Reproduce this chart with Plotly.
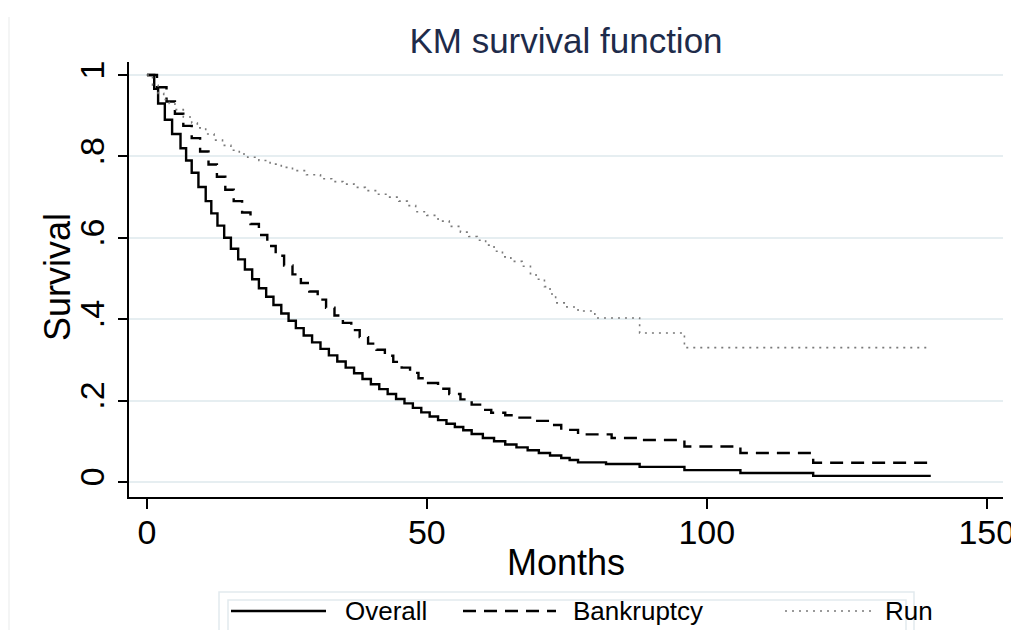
import plotly.graph_objects as go

# ---- data ----
overall_t = [0, 1.3, 2.0, 3.2, 4.5, 6.0, 7.0, 8.0, 9.2, 10.5, 11.5, 12.6, 13.8, 15.0, 16.3, 17.5,
             18.8, 20.0, 21.3, 22.6, 24.0, 25.3, 26.6, 28.0, 29.5, 31.0, 32.5, 34.0, 35.5, 37.0,
             38.5, 40.0, 41.5, 43.0, 44.5, 46.0, 47.5, 49.0, 50.5, 52.0, 53.5, 55.0, 56.5, 58.0,
             60.0, 62.0, 64.0, 66.0, 68.0, 70.0, 72.0, 74.0, 75.5, 77.0, 82.0, 88.0, 96.0, 106.0,
             119.0, 140.0]
overall_s = [1.0, 0.966, 0.93, 0.89, 0.855, 0.82, 0.79, 0.76, 0.725, 0.69, 0.66, 0.63, 0.60, 0.573,
             0.547, 0.522, 0.498, 0.476, 0.455, 0.435, 0.414, 0.396, 0.378, 0.36, 0.343, 0.327,
             0.311, 0.296, 0.281, 0.267, 0.253, 0.24, 0.228, 0.216, 0.204, 0.193, 0.182, 0.171,
             0.161, 0.152, 0.143, 0.135, 0.127, 0.118, 0.108, 0.10, 0.092, 0.085, 0.078, 0.071,
             0.065, 0.059, 0.054, 0.048, 0.044, 0.037, 0.029, 0.022, 0.015, 0.015]

bankruptcy_t = [0, 1.8, 3.5, 5.0, 6.5, 8.0, 9.5, 11.0, 12.5, 14.0, 15.5, 17.0, 18.5, 20.0, 21.5,
                23.0, 24.5, 26.0, 27.5, 29.0, 30.5, 32.0, 33.5, 35.0, 36.5, 38.0, 39.5, 41.0,
                42.5, 44.0, 45.5, 47.0, 48.5, 50.0, 52.0, 54.0, 56.0, 58.0, 60.0, 61.5, 64.0,
                66.0, 69.0, 72.0, 74.0, 77.0, 83.0, 88.0, 96.0, 106.0, 119.0, 140.0]
bankruptcy_s = [1.0, 0.97, 0.935, 0.905, 0.875, 0.845, 0.812, 0.78, 0.75, 0.718, 0.69, 0.662,
                0.634, 0.607, 0.58, 0.556, 0.532, 0.51, 0.489, 0.468, 0.448, 0.428, 0.409, 0.391,
                0.373, 0.356, 0.34, 0.325, 0.31, 0.295, 0.281, 0.268, 0.255, 0.243, 0.229, 0.216,
                0.203, 0.19, 0.177, 0.17, 0.164, 0.158, 0.15, 0.14, 0.128, 0.117, 0.108, 0.103,
                0.087, 0.071, 0.047, 0.047]

run_t = [0, 1.0, 2.0, 3.0, 4.0, 5.0, 6.5, 8.0, 9.0, 10.5, 12.0, 13.5, 15.0, 16.5, 18.0, 20.0,
         22.0, 24.0, 26.0, 28.5, 31.0, 33.0, 35.0, 37.0, 39.0, 41.0, 43.0, 45.0, 46.5, 48.0,
         50.0, 52.0, 54.0, 56.0, 57.5, 59.0, 60.5, 62.0, 63.5, 65.0, 67.0, 68.5, 69.5, 71.0,
         72.0, 73.0, 75.0, 77.0, 80.0, 88.0, 96.0, 140.0]
run_s = [1.0, 0.975, 0.955, 0.94, 0.93, 0.915, 0.897, 0.882, 0.87, 0.855, 0.84, 0.827, 0.815,
         0.806, 0.798, 0.79, 0.781, 0.773, 0.765, 0.755, 0.745, 0.738, 0.732, 0.724, 0.716,
         0.707, 0.70, 0.69, 0.679, 0.664, 0.655, 0.641, 0.628, 0.614, 0.603, 0.594, 0.582,
         0.567, 0.553, 0.542, 0.53, 0.512, 0.498, 0.48, 0.462, 0.44, 0.43, 0.42, 0.403, 0.366,
         0.33, 0.33]

x_ticks = [0, 50, 100, 150]
y_ticks = [0, 0.2, 0.4, 0.6, 0.8, 1.0]
y_ticktext = ["0", ".2", ".4", ".6", ".8", "1"]
series_names = ["Overall", "Bankruptcy", "Run"]

FONT = "Liberation Sans, Arial, sans-serif"

fig = go.Figure()
fig.add_trace(go.Scatter(x=overall_t, y=overall_s, mode="lines", name=series_names[0],
                         line=dict(color="black", width=2.4, shape="hv")))
fig.add_trace(go.Scatter(x=bankruptcy_t, y=bankruptcy_s, mode="lines", name=series_names[1],
                         line=dict(color="black", width=2.4, shape="hv", dash="13px,8px")))
fig.add_trace(go.Scatter(x=run_t, y=run_s, mode="lines", name=series_names[2],
                         line=dict(color="#7a7a7a", width=1.6, shape="hv", dash="2px,5px")))

# page body has an 8px margin: the figure sits at (8, 8) in the window
OFF = 8
W, H = 1019 - OFF, 630 - OFF
# plot area in window pixels
Lw, Rw, Tw, Bw = 129, 1003, 62, 497
L, R, T, B = Lw - OFF, Rw - OFF, Tw - OFF, Bw - OFF
pw, ph = R - L, B - T


def px(xw):
    return (xw - OFF - L) / pw


def py(yw):
    return (B - (yw - OFF)) / ph


# custom legend (Stata-style, long line samples)
LEG_Y = 611
shapes = [
    dict(type="rect", xref="paper", yref="paper", x0=px(219), x1=px(914), y0=py(640), y1=py(592),
         line=dict(color="#e2eaee", width=1.5), fillcolor="white", layer="above"),
    dict(type="rect", xref="paper", yref="paper", x0=px(228), x1=px(906), y0=py(640), y1=py(600),
         line=dict(color="#e2eaee", width=1.5), fillcolor="white", layer="above"),
    dict(type="line", xref="paper", yref="paper", x0=px(231), x1=px(326), y0=py(LEG_Y), y1=py(LEG_Y),
         line=dict(color="black", width=2.4)),
    dict(type="line", xref="paper", yref="paper", x0=px(463), x1=px(556), y0=py(LEG_Y), y1=py(LEG_Y),
         line=dict(color="black", width=2.4, dash="13px,8px")),
    dict(type="line", xref="paper", yref="paper", x0=px(785), x1=px(871), y0=py(LEG_Y), y1=py(LEG_Y),
         line=dict(color="#7a7a7a", width=1.6, dash="2px,5px")),
    # faint frame line at the left edge of the graph region
    dict(type="line", xref="paper", yref="paper", x0=px(9), x1=px(9), y0=py(17), y1=py(640),
         line=dict(color="#f0f2f2", width=1.5)),
]
annotations = [
    dict(text=series_names[0], xref="paper", yref="paper", x=px(343), y=py(LEG_Y), xanchor="left",
         yanchor="middle", showarrow=False, font=dict(family=FONT, size=26, color="black")),
    dict(text=series_names[1], xref="paper", yref="paper", x=px(571), y=py(LEG_Y), xanchor="left",
         yanchor="middle", showarrow=False, font=dict(family=FONT, size=26, color="black")),
    dict(text=series_names[2], xref="paper", yref="paper", x=px(883), y=py(LEG_Y), xanchor="left",
         yanchor="middle", showarrow=False, font=dict(family=FONT, size=26, color="black")),
    # y axis title (Stata places it close to the rotated tick labels)
    dict(text="Survival", xref="paper", yref="paper", x=px(57), y=py(277), xanchor="center",
         yanchor="middle", textangle=-90, showarrow=False,
         font=dict(family=FONT, size=36, color="black")),
]

fig.update_layout(
    width=W, height=H,
    margin=dict(l=L, r=W - R, t=T, b=H - B, pad=0, autoexpand=False),
    paper_bgcolor="white", plot_bgcolor="white",
    showlegend=False,
    title=dict(text="KM survival function", x=(L + R) / 2 / W, xanchor="center",
               y=1 - (41 - OFF) / H, yanchor="middle", automargin=False,
               font=dict(family=FONT, size=35, color="#1e2b4a")),
    font=dict(family=FONT, color="black"),
    shapes=shapes,
    annotations=annotations,
)
fig.update_xaxes(range=[-3.2, 152.9], tickvals=x_ticks, showgrid=False, zeroline=False,
                 automargin=False, ticklabelstandoff=-6,
                 showline=True, linecolor="black", linewidth=2, ticks="outside", ticklen=10,
                 tickwidth=2, tickcolor="black", tickfont=dict(family=FONT, size=34),
                 title=dict(text="Months", font=dict(family=FONT, size=36), standoff=0))
fig.update_yaxes(range=[-0.037, 1.032], tickvals=y_ticks, ticktext=y_ticktext, tickangle=-90,
                 automargin=False,
                 showgrid=True, gridcolor="#e6eef1", gridwidth=2, zeroline=False,
                 showline=True, linecolor="black", linewidth=2, ticks="outside", ticklen=9,
                 tickwidth=2, tickcolor="black", tickfont=dict(family=FONT, size=34))

fig.write_html("out.html")
